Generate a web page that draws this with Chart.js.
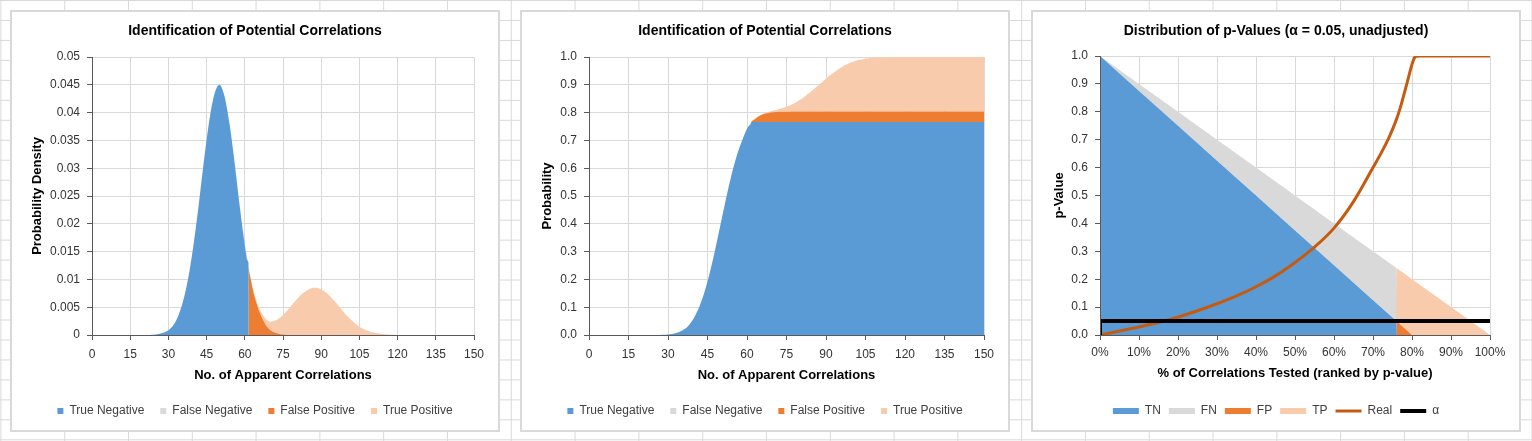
<!DOCTYPE html>
<html>
<head>
<meta charset="utf-8">
<title>Identification of Potential Correlations</title>
<script src="https://cdn.jsdelivr.net/npm/chart.js@4.4.1/dist/chart.umd.min.js"></script>
<style>
    html, body { margin: 0; padding: 0; }
    body {
        width: 1532px;
        height: 441px;
        overflow: hidden;
        position: relative;
        background-color: #fff;
        background-image: linear-gradient(to right, #d9d9d9 1px, transparent 1px),
                          linear-gradient(to bottom, #d9d9d9 1px, transparent 1px);
        background-size: 63.8px 19.97px;
        background-position: 0.4px 0px;
    }
    .panel {
        position: absolute;
        top: 10px;
        width: 486px;
        height: 418px;
        border: 2px solid #d9d9d9;
        background: #fff;
    }
    .panel canvas { display: block; }
</style>
</head>
<body>
<div class="panel" style="left:10px"><canvas id="densityChart" width="486" height="418"></canvas></div>
<div class="panel" style="left:520px"><canvas id="cumulativeChart" width="486" height="418"></canvas></div>
<div class="panel" style="left:1031px"><canvas id="pValueChart" width="486" height="418"></canvas></div>

<script>
// ==========================================
// DATA
// ==========================================

// No. of apparent correlations (x values of the two left charts)
const counts = [0, 10, 20, 25, 28, 30, 32, 34, 36, 38, 40, 42, 44, 46, 48, 50, 52, 54, 56, 58,
    60, 61, 61.5, 61.6, 62, 63, 64, 66, 68, 70, 72, 74, 76, 78, 80, 82, 84, 86, 88, 90,
    92, 94, 96, 98, 100, 102, 104, 106, 108, 110, 112, 115, 118, 120, 125, 130, 140, 150];

// Probability density
const densityTN = [0, 0, 0, 0.0001, 0.0004, 0.00085, 0.0018, 0.0036, 0.0065, 0.0108, 0.0167, 0.0238,
    0.0315, 0.0384, 0.0432, 0.045, 0.043, 0.038, 0.031, 0.0232, 0.0162, 0.0134, 0.012,
    0, 0, 0, 0, 0, 0, 0, 0, 0, 0, 0, 0, 0, 0, 0, 0, 0, 0, 0, 0, 0, 0, 0, 0, 0, 0, 0, 0, 0, 0, 0, 0, 0, 0, 0];
const densityFN = [0, 0, 0, 0, 0, 0, 0, 0, 0, 0, 0, 0, 0, 0, 0, 0, 0, 0, 0.00003, 0.00006, 0.00012, 0.00016, 0.00018,
    0, 0, 0, 0, 0, 0, 0, 0, 0, 0, 0, 0, 0, 0, 0, 0, 0, 0, 0, 0, 0, 0, 0, 0, 0, 0, 0, 0, 0, 0, 0, 0, 0, 0, 0];
const densityFP = [0, 0, 0, 0, 0, 0, 0, 0, 0, 0, 0, 0, 0, 0, 0, 0, 0, 0, 0, 0, 0, 0, 0,
    0.0118, 0.0108, 0.0085, 0.0066, 0.0039, 0.002, 0.0009, 0.0004, 0.00015, 0.00006, 0.00002,
    0, 0, 0, 0, 0, 0, 0, 0, 0, 0, 0, 0, 0, 0, 0, 0, 0, 0, 0, 0, 0, 0, 0, 0];
const densityTP = [0, 0, 0, 0, 0, 0, 0, 0, 0, 0, 0, 0, 0, 0, 0, 0, 0, 0, 0, 0, 0, 0, 0,
    0.0002, 0.0002, 0.0003, 0.0004, 0.0006, 0.001, 0.0015, 0.0022, 0.003, 0.004, 0.0051,
    0.0062, 0.0072, 0.0079, 0.0084, 0.0085, 0.0082, 0.0076, 0.0067, 0.0057, 0.0046,
    0.0035, 0.0026, 0.0018, 0.0012, 0.0008, 0.0005, 0.0003, 0.00012, 0.00004, 0.00002, 0, 0, 0, 0];

// Cumulative probability
const cumulativeTN = [0, 0, 0, 0.0001, 0.0008, 0.0019, 0.0045, 0.0097, 0.0195, 0.0364, 0.0637, 0.104,
    0.159, 0.229, 0.311, 0.4, 0.489, 0.571, 0.641, 0.696, 0.742, 0.755, 0.762,
    0.766, 0.766, 0.766, 0.766, 0.766, 0.766, 0.766, 0.766, 0.766, 0.766, 0.766, 0.766, 0.766,
    0.766, 0.766, 0.766, 0.766, 0.766, 0.766, 0.766, 0.766, 0.766, 0.766, 0.766, 0.766, 0.766,
    0.766, 0.766, 0.766, 0.766, 0.766, 0.766, 0.766, 0.766, 0.766];
const cumulativeFN = [0, 0, 0, 0, 0, 0, 0, 0, 0, 0, 0, 0, 0, 0, 0, 0, 0, 0, 0.0001, 0.0002, 0.0003, 0.0005, 0.0006,
    0.0006, 0.0006, 0.0006, 0.0006, 0.0006, 0.0006, 0.0006, 0.0006, 0.0006, 0.0006, 0.0006, 0.0006, 0.0006,
    0.0006, 0.0006, 0.0006, 0.0006, 0.0006, 0.0006, 0.0006, 0.0006, 0.0006, 0.0006, 0.0006, 0.0006, 0.0006,
    0.0006, 0.0006, 0.0006, 0.0006, 0.0006, 0.0006, 0.0006, 0.0006, 0.0006];
const cumulativeFP = [0, 0, 0, 0, 0, 0, 0, 0, 0, 0, 0, 0, 0, 0, 0, 0, 0, 0, 0, 0, 0, 0, 0,
    0, 0.0045, 0.0098, 0.0173, 0.0272, 0.0324, 0.035, 0.0362, 0.0367, 0.0369, 0.037,
    0.037, 0.037, 0.037, 0.037, 0.037, 0.037, 0.037, 0.037, 0.037, 0.037, 0.037, 0.037,
    0.037, 0.037, 0.037, 0.037, 0.037, 0.037, 0.037, 0.037, 0.037, 0.037, 0.037, 0.037];
const cumulativeTP = [0, 0, 0, 0, 0, 0, 0, 0, 0, 0, 0, 0, 0, 0, 0, 0, 0, 0, 0, 0, 0, 0, 0,
    0, 0.0001, 0.0003, 0.0006, 0.0016, 0.0032, 0.0056, 0.0092, 0.0143, 0.0212, 0.0301,
    0.0413, 0.0545, 0.0693, 0.0854, 0.102, 0.1186, 0.1342, 0.1482, 0.1604, 0.1704,
    0.1783, 0.1843, 0.1886, 0.1916, 0.1936, 0.1948, 0.1955, 0.1961, 0.1963, 0.1964,
    0.1964, 0.1964, 0.1964, 0.1964];

// % of correlations tested (ranked by p-value)
const testedPct = [0, 10, 20, 30, 40, 50, 60, 70, 76, 76.1, 78, 80, 90, 100];
const pValueTN = [1, 0.875, 0.75, 0.625, 0.5, 0.375, 0.25, 0.125, 0.05, 0, 0, 0, 0, 0];
const pValueFN = [0, 0.025, 0.05, 0.075, 0.1, 0.125, 0.15, 0.175, 0.19, 0, 0, 0, 0, 0];
const pValueFP = [0, 0, 0, 0, 0, 0, 0, 0, 0, 0.049, 0.025, 0, 0, 0];
const pValueTP = [0, 0, 0, 0, 0, 0, 0, 0, 0, 0.19, 0.195, 0.2, 0.1, 0];

const realPct = [0, 5, 10, 15, 20, 25, 30, 35, 40, 45, 50, 55, 60, 65, 70, 72, 74, 75, 76, 77, 78, 79, 80, 80.5, 81, 82, 90, 100];
const realPValue = [0, 0.014, 0.029, 0.045, 0.064, 0.087, 0.112, 0.14, 0.173, 0.212, 0.26, 0.315, 0.383,
    0.478, 0.6, 0.65, 0.705, 0.737, 0.772, 0.815, 0.865, 0.918, 0.97, 0.99, 0.999, 1, 1, 1];

const alphaPct = [0, 0, 100];
const alphaValue = [0, 0.05, 0.05];

const seriesLabels = ['True Negative', 'False Negative', 'False Positive', 'True Positive'];
const pValueLabels = ['TN', 'FN', 'FP', 'TP', 'Real', 'α'];

// ==========================================
// STYLE
// ==========================================
const COLORS = {
    tn: '#5B9BD5',
    fn: '#D9D9D9',
    fp: '#ED7D31',
    tp: '#F8CBAD',
    real: '#C55A11',
    alpha: '#000000',
    grid: '#d9d9d9',
    axis: '#595959',
    tick: '#333333',
    legend: '#404040'
};

Chart.defaults.font.family = '"Liberation Sans", Arial, sans-serif';

function points(xs, ys) {
    return xs.map((x, i) => ({ x: x, y: ys[i] }));
}

// Stacked filled area; drawn below the lines (higher order = drawn earlier)
function area(label, xs, ys, color, first, smooth) {
    return {
        label: label,
        data: points(xs, ys),
        backgroundColor: color,
        borderColor: color,
        borderWidth: 0,
        fill: first ? 'origin' : '-1',
        pointRadius: 0,
        pointHoverRadius: 0,
        pointBorderWidth: 0,
        pointStyle: 'rect',
        stack: 'areas',
        order: 10,
        cubicInterpolationMode: smooth ? 'monotone' : 'default',
        tension: 0
    };
}

function line(label, xs, ys, color, width, stack, order) {
    return {
        label: label,
        data: points(xs, ys),
        borderColor: color,
        backgroundColor: color,
        borderWidth: width,
        fill: false,
        pointRadius: 0,
        pointHoverRadius: 0,
        pointBorderWidth: width,
        pointStyle: 'line',
        stack: stack,
        order: order,
        cubicInterpolationMode: 'monotone'
    };
}

function buildOptions(cfg) {
    return {
        responsive: false,
        animation: false,
        events: [],
        layout: { padding: { left: 0, right: 0, top: 0, bottom: 3 } },
        plugins: {
            title: {
                display: true,
                text: cfg.title,
                color: '#000',
                font: { size: 14, weight: 'bold' },
                padding: { top: 10.6, bottom: cfg.titleGap }
            },
            legend: {
                position: 'bottom',
                labels: cfg.legend
            },
            tooltip: { enabled: false }
        },
        scales: {
            x: {
                type: 'linear',
                min: cfg.xMin,
                max: cfg.xMax,
                ticks: {
                    stepSize: cfg.xStep,
                    color: COLORS.tick,
                    font: { size: 12 },
                    padding: cfg.xTickPad,
                    maxRotation: 0,
                    autoSkip: false,
                    callback: cfg.xFormat
                },
                grid: { color: COLORS.grid, tickColor: COLORS.axis, tickLength: 5 },
                border: { color: COLORS.axis, z: 1 },
                title: {
                    display: true,
                    text: cfg.xTitle,
                    color: '#000',
                    font: { size: 13, weight: 'bold' },
                    padding: { top: 0, bottom: cfg.xTitlePad }
                },
                afterFit: function(scale) {
                    scale.height = cfg.xHeight;
                    scale.paddingRight = cfg.rightPad;
                }
            },
            y: {
                stacked: true,
                min: 0,
                max: cfg.yMax,
                ticks: {
                    stepSize: cfg.yStep,
                    color: COLORS.tick,
                    font: { size: 12 },
                    padding: 7,
                    callback: cfg.yFormat
                },
                grid: { color: COLORS.grid, tickColor: COLORS.axis, tickLength: 5 },
                border: { color: COLORS.axis, z: 1 },
                title: {
                    display: true,
                    text: cfg.yTitle,
                    color: '#000',
                    font: { size: 13, weight: 'bold' },
                    padding: { top: cfg.yTitlePad, bottom: 0 }
                },
                afterFit: function(scale) {
                    scale.width = cfg.yWidth;
                }
            }
        }
    };
}

const squareLegend = {
    boxWidth: 6,
    boxHeight: 6,
    padding: 16,
    color: COLORS.legend,
    font: { size: 12 }
};

// ==========================================
// CHARTS
// ==========================================
new Chart(document.getElementById('densityChart'), {
    type: 'line',
    data: {
        datasets: [
            area(seriesLabels[0], counts, densityTN, COLORS.tn, true, true),
            area(seriesLabels[1], counts, densityFN, COLORS.fn, false, true),
            area(seriesLabels[2], counts, densityFP, COLORS.fp, false, true),
            area(seriesLabels[3], counts, densityTP, COLORS.tp, false, true)
        ]
    },
    options: buildOptions({
        title: 'Identification of Potential Correlations',
        titleGap: 17.6,
        legend: squareLegend,
        xMin: 0, xMax: 150, xStep: 15,
        xFormat: v => String(v),
        xTitle: 'No. of Apparent Correlations',
        xTickPad: 7, xTitlePad: 6.2, xHeight: 54, rightPad: 24,
        yMax: 0.05, yStep: 0.005,
        yFormat: v => String(+v.toFixed(3)),
        yTitle: 'Probability Density',
        yTitlePad: 17.9, yWidth: 80
    })
});

new Chart(document.getElementById('cumulativeChart'), {
    type: 'line',
    data: {
        datasets: [
            area(seriesLabels[0], counts, cumulativeTN, COLORS.tn, true, true),
            area(seriesLabels[1], counts, cumulativeFN, COLORS.fn, false, true),
            area(seriesLabels[2], counts, cumulativeFP, COLORS.fp, false, true),
            area(seriesLabels[3], counts, cumulativeTP, COLORS.tp, false, true)
        ]
    },
    options: buildOptions({
        title: 'Identification of Potential Correlations',
        titleGap: 17.6,
        legend: squareLegend,
        xMin: 0, xMax: 150, xStep: 15,
        xFormat: v => String(v),
        xTitle: 'No. of Apparent Correlations',
        xTickPad: 7, xTitlePad: 6.2, xHeight: 54, rightPad: 24,
        yMax: 1, yStep: 0.1,
        yFormat: v => v.toFixed(1),
        yTitle: 'Probability',
        yTitlePad: 17.9, yWidth: 67
    })
});

new Chart(document.getElementById('pValueChart'), {
    type: 'line',
    data: {
        datasets: [
            area(pValueLabels[0], testedPct, pValueTN, COLORS.tn, true, false),
            area(pValueLabels[1], testedPct, pValueFN, COLORS.fn, false, false),
            area(pValueLabels[2], testedPct, pValueFP, COLORS.fp, false, false),
            area(pValueLabels[3], testedPct, pValueTP, COLORS.tp, false, false),
            line(pValueLabels[4], realPct, realPValue, COLORS.real, 3, 'real', 1),
            line(pValueLabels[5], alphaPct, alphaValue, COLORS.alpha, 4, 'alpha', 0)
        ]
    },
    options: buildOptions({
        title: 'Distribution of p-Values (α = 0.05, unadjusted)',
        titleGap: 16.6,
        legend: {
            usePointStyle: true,
            pointStyleWidth: 26,
            boxHeight: 6,
            padding: 8,
            color: COLORS.legend,
            font: { size: 12 },
            // keep the series order, not the drawing order
            sort: (a, b) => a.datasetIndex - b.datasetIndex
        },
        xMin: 0, xMax: 100, xStep: 10,
        xFormat: v => v + '%',
        xTitle: '% of Correlations Tested (ranked by p-value)',
        xTickPad: 5.5, xTitlePad: 15.9, xHeight: 62, rightPad: 29,
        yMax: 1, yStep: 0.1,
        yFormat: v => v.toFixed(1),
        yTitle: 'p-Value',
        yTitlePad: 18.2, yWidth: 67
    })
});
</script>
</body>
</html>
